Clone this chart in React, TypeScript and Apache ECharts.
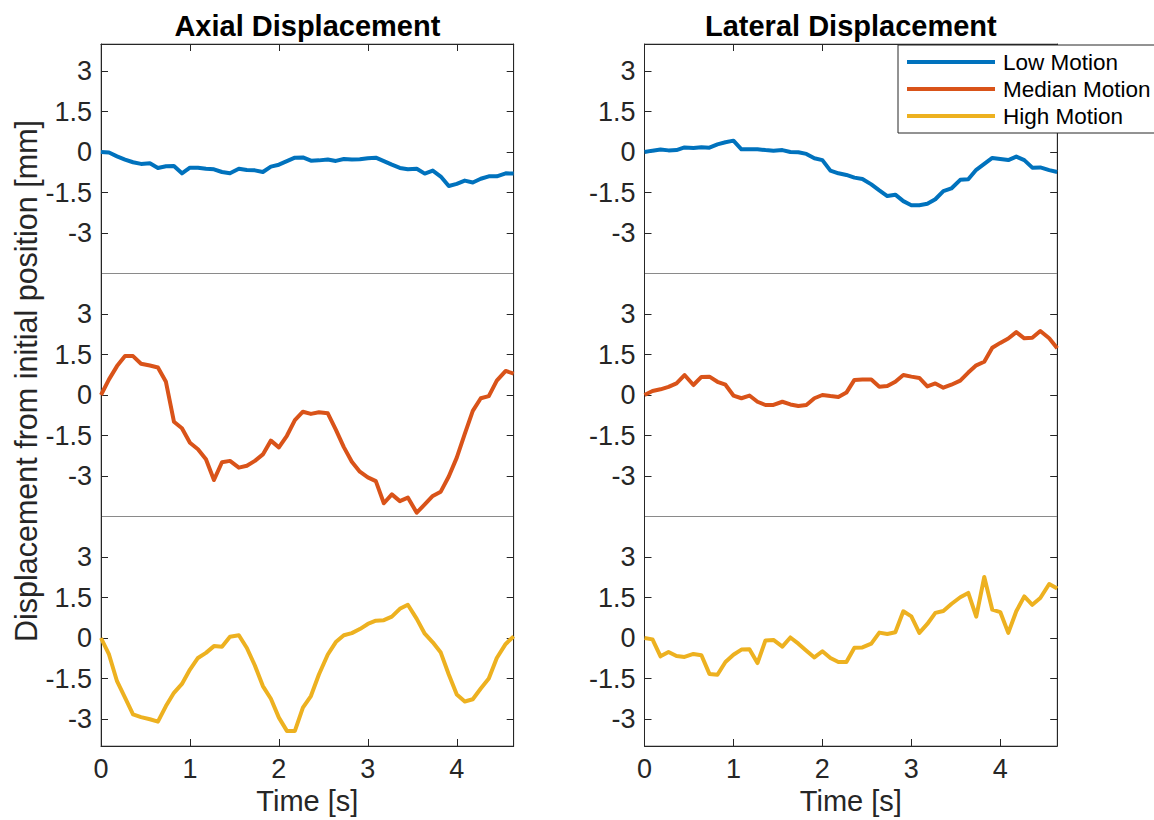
import React, { useEffect, useRef } from 'react';
import * as echarts from 'echarts';

// Sample times [s]
const times = [0, 0.09, 0.18, 0.27, 0.36, 0.45, 0.55, 0.64, 0.73, 0.82, 0.91, 1.0, 1.09, 1.18, 1.27, 1.36, 1.45, 1.55, 1.64, 1.73, 1.82, 1.91, 2.0, 2.09, 2.18, 2.27, 2.36, 2.45, 2.55, 2.64, 2.73, 2.82, 2.91, 3.0, 3.09, 3.18, 3.27, 3.36, 3.45, 3.55, 3.64, 3.73, 3.82, 3.91, 4.0, 4.09, 4.18, 4.27, 4.36, 4.45, 4.55, 4.64];

// Axial displacement [mm]
const axialLow = [0, -0.02, -0.16, -0.28, -0.38, -0.44, -0.42, -0.59, -0.53, -0.52, -0.79, -0.58, -0.58, -0.62, -0.64, -0.74, -0.79, -0.62, -0.67, -0.68, -0.74, -0.54, -0.47, -0.34, -0.21, -0.2, -0.32, -0.31, -0.28, -0.33, -0.26, -0.28, -0.27, -0.23, -0.21, -0.34, -0.47, -0.59, -0.64, -0.62, -0.8, -0.69, -0.91, -1.26, -1.18, -1.06, -1.13, -0.99, -0.9, -0.9, -0.79, -0.8];
const axialMedian = [0, 0.58, 1.07, 1.44, 1.44, 1.16, 1.09, 1.02, 0.49, -0.99, -1.23, -1.77, -2.01, -2.38, -3.15, -2.49, -2.44, -2.69, -2.62, -2.44, -2.2, -1.69, -1.94, -1.51, -0.93, -0.62, -0.7, -0.64, -0.68, -1.28, -1.93, -2.47, -2.84, -3.05, -3.19, -4.01, -3.68, -3.93, -3.8, -4.36, -4.05, -3.74, -3.58, -3.02, -2.32, -1.44, -0.59, -0.12, -0.04, 0.53, 0.89, 0.79];
const axialHigh = [0, -0.61, -1.6, -2.21, -2.83, -2.93, -3.01, -3.1, -2.52, -2.03, -1.7, -1.17, -0.74, -0.55, -0.3, -0.32, 0.05, 0.1, -0.37, -1.02, -1.78, -2.25, -2.95, -3.44, -3.44, -2.58, -2.15, -1.35, -0.61, -0.15, 0.1, 0.18, 0.33, 0.52, 0.64, 0.66, 0.79, 1.08, 1.23, 0.71, 0.16, -0.16, -0.54, -1.35, -2.09, -2.35, -2.27, -1.87, -1.5, -0.74, -0.22, 0.06];

// Lateral displacement [mm]
const lateralLow = [0, 0.05, 0.09, 0.06, 0.07, 0.17, 0.15, 0.18, 0.16, 0.28, 0.36, 0.42, 0.1, 0.1, 0.1, 0.07, 0.05, 0.07, 0, -0.01, -0.07, -0.23, -0.3, -0.69, -0.79, -0.85, -0.95, -1.0, -1.2, -1.42, -1.63, -1.58, -1.82, -1.97, -1.97, -1.92, -1.75, -1.45, -1.35, -1.03, -1.01, -0.66, -0.44, -0.22, -0.26, -0.3, -0.17, -0.3, -0.58, -0.57, -0.67, -0.74];
const lateralMedian = [0, 0.15, 0.21, 0.3, 0.43, 0.74, 0.37, 0.67, 0.68, 0.49, 0.38, -0.02, -0.12, -0.02, -0.25, -0.37, -0.37, -0.25, -0.35, -0.41, -0.37, -0.12, 0, -0.04, -0.07, 0.09, 0.56, 0.57, 0.57, 0.31, 0.33, 0.49, 0.74, 0.68, 0.63, 0.32, 0.43, 0.27, 0.38, 0.53, 0.83, 1.1, 1.23, 1.75, 1.93, 2.09, 2.33, 2.1, 2.12, 2.37, 2.1, 1.73];
const lateralHigh = [0, -0.05, -0.68, -0.52, -0.67, -0.7, -0.59, -0.64, -1.33, -1.36, -0.89, -0.62, -0.43, -0.42, -0.93, -0.09, -0.07, -0.32, 0.02, -0.21, -0.47, -0.72, -0.49, -0.74, -0.89, -0.89, -0.36, -0.35, -0.21, 0.2, 0.15, 0.21, 0.99, 0.8, 0.19, 0.52, 0.93, 1.0, 1.26, 1.51, 1.67, 0.79, 2.26, 1.05, 0.96, 0.19, 0.99, 1.54, 1.23, 1.48, 2.0, 1.83];

const seriesNames = ['Low Motion', 'Median Motion', 'High Motion'];
const seriesColors = ['#0072BD', '#D95319', '#EDB120'];
const panelTitles = ['Axial Displacement', 'Lateral Displacement'];
const xTickValues = [0, 1, 2, 3, 4];
const yTickValues = [-3, -1.5, 0, 1.5, 3];
const rowRanges = [
  [-4.5, 4],
  [-4.5, 4.5],
  [-4, 4.5],
];
const xAxisName = 'Time [s]';
const yAxisName = 'Displacement from initial position [mm]';

const FONT = "'Liberation Sans', Arial, Helvetica, sans-serif";
const AX = '#262626';

export default function App() {
  const ref = useRef<HTMLDivElement>(null);

  useEffect(() => {
    if (!ref.current) return;
    const chart = echarts.init(ref.current, null, { renderer: 'svg' });

    const colLeft = [101, 644.5];
    const colWidth = 412.7;
    const rowTop = [44, 273.5, 516.5];
    const rowHeight = [229.5, 243, 229.5];
    const panelData = [
      [axialLow, lateralLow],
      [axialMedian, lateralMedian],
      [axialHigh, lateralHigh],
    ];
    const xMax = times[times.length - 1];

    const grids: any[] = [];
    const xAxes: any[] = [];
    const yAxes: any[] = [];
    const series: any[] = [];

    for (let r = 0; r < 3; r++) {
      for (let c = 0; c < 2; c++) {
        const g = r * 2 + c;
        grids.push({
          left: colLeft[c],
          top: rowTop[r],
          width: colWidth,
          height: rowHeight[r],
          show: true,
          borderColor: '#8a8a8a',
          borderWidth: 1,
          backgroundColor: '#ffffff',
          containLabel: false,
        });
        xAxes.push({
          type: 'value',
          gridIndex: g,
          min: 0,
          max: xMax,
          show: r !== 1,
          position: r === 0 ? 'top' : 'bottom',
          axisLine: { show: true, onZero: false, lineStyle: { color: AX, width: 1 } },
          axisTick: { show: true, inside: true, length: 7, customValues: xTickValues, lineStyle: { color: AX } },
          axisLabel: {
            show: r === 2,
            customValues: xTickValues,
            fontSize: 27,
            fontFamily: FONT,
            color: AX,
            margin: 9,
          },
          splitLine: { show: false },
          name: r === 2 ? xAxisName : '',
          nameLocation: 'middle',
          nameGap: 40,
          nameTextStyle: { fontSize: 29, fontFamily: FONT, color: AX },
        });
        const [mn, mx] = rowRanges[r];
        yAxes.push({
          type: 'value',
          gridIndex: g,
          min: mn,
          max: mx,
          position: 'left',
          axisLine: { show: true, onZero: false, lineStyle: { color: AX, width: 1 } },
          axisTick: { show: true, inside: true, length: 7, customValues: yTickValues, lineStyle: { color: AX } },
          axisLabel: {
            show: true,
            customValues: yTickValues,
            fontSize: 27,
            fontFamily: FONT,
            color: AX,
            margin: 9,
          },
          splitLine: { show: false },
        });
        yAxes.push({
          type: 'value',
          gridIndex: g,
          min: mn,
          max: mx,
          position: 'right',
          axisLine: { show: true, onZero: false, lineStyle: { color: AX, width: 1 } },
          axisTick: { show: true, inside: true, length: 7, customValues: yTickValues, lineStyle: { color: AX } },
          axisLabel: { show: false },
          splitLine: { show: false },
        });
        const vals = panelData[r][c];
        series.push({
          type: 'line',
          name: seriesNames[r],
          xAxisIndex: g,
          yAxisIndex: g * 2,
          data: times.map((t, i) => [t, vals[i]]),
          showSymbol: false,
          symbol: 'none',
          color: seriesColors[r],
          lineStyle: { width: 4, color: seriesColors[r], join: 'round' },
          clip: true,
        });
      }
    }

    const graphics: any[] = [
      {
        type: 'text',
        x: 26,
        y: 381,
        rotation: Math.PI / 2,
        style: {
          text: yAxisName,
          fontSize: 30.5,
          fontFamily: FONT,
          fill: AX,
          align: 'center',
          verticalAlign: 'middle',
        },
      },
    ];
    panelTitles.forEach((t, c) => {
      graphics.push({
        type: 'text',
        x: colLeft[c] + colWidth / 2,
        y: 26,
        style: {
          text: t,
          fontSize: 29,
          fontWeight: 'bold',
          fontFamily: FONT,
          fill: '#000000',
          align: 'center',
          verticalAlign: 'middle',
        },
      });
    });

    chart.setOption({
      animation: false,
      backgroundColor: '#ffffff',
      grid: grids,
      xAxis: xAxes,
      yAxis: yAxes,
      series,
      legend: {
        show: true,
        orient: 'vertical',
        left: 898,
        top: 45,
        data: seriesNames,
        icon: 'rect',
        itemWidth: 88,
        itemHeight: 4,
        itemGap: 0,
        padding: [3.5, 12, 3.5, 9],
        borderColor: AX,
        borderWidth: 1,
        borderRadius: 0,
        backgroundColor: '#ffffff',
        selectedMode: false,
        textStyle: { fontSize: 22.5, fontFamily: FONT, color: '#000000', lineHeight: 27, padding: [0, 0, 0, 3] },
      },
      graphic: graphics,
    });

    return () => chart.dispose();
  }, []);

  return (
    <div
      ref={ref}
      style={{ position: 'fixed', left: 0, top: 0, width: 1154, height: 820, background: '#fff' }}
    />
  );
}
